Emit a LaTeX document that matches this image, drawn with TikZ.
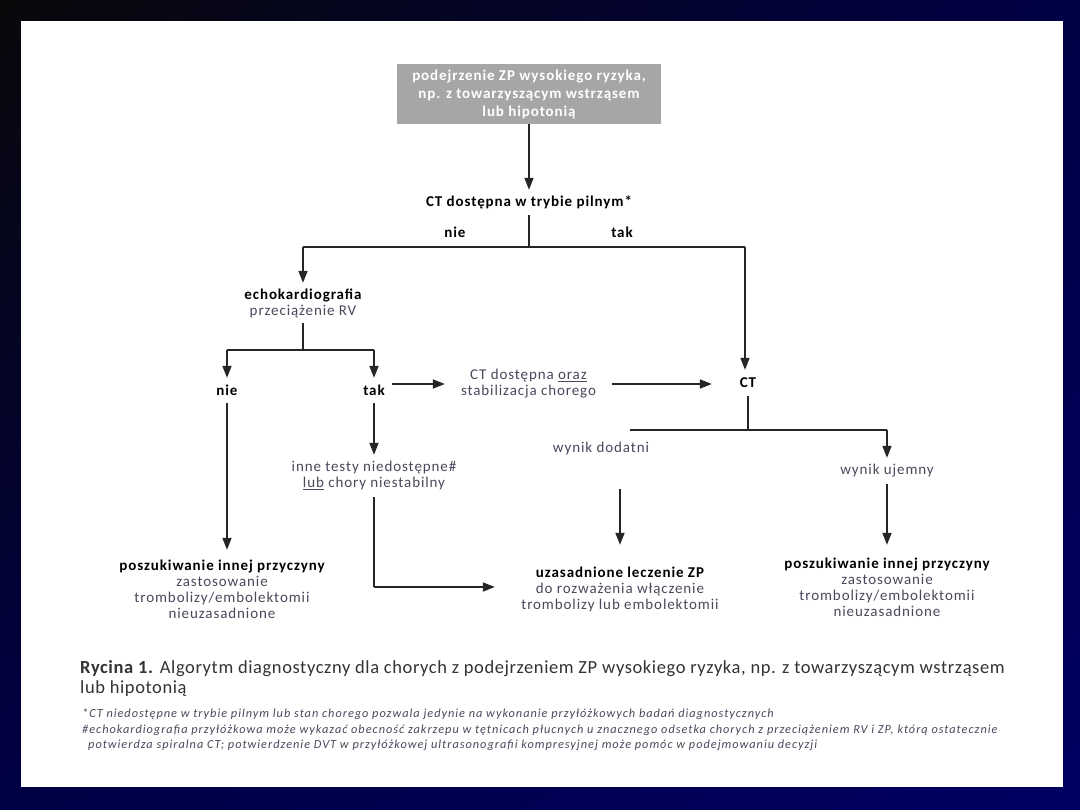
\documentclass[tikz,border=0pt]{standalone}
\usepackage{fontspec}
\setmainfont{Carlito}
\newfontfamily\diagf[LetterSpace=6]{Carlito}
\newfontfamily\capf[LetterSpace=3.2]{Carlito}
\newfontfamily\fnf[LetterSpace=8]{Carlito}
\usetikzlibrary{arrows.meta,shadings}
\definecolor{navy}{RGB}{0,0,98}
\definecolor{navyd}{RGB}{0,0,70}
\definecolor{nearblack}{RGB}{8,8,10}
\definecolor{boxgray}{RGB}{166,166,166}
\definecolor{txtgray}{RGB}{72,74,92}
\newcommand{\fsz}{\diagf\fontsize{15}{16}\selectfont}
\begin{document}
\begin{tikzpicture}[x=1pt,y=-1pt,
 ln/.style={line width=1.8pt, draw=black!85},
 arr/.style={ln, -{Triangle[length=12pt,width=9pt]}},
 bt/.style={font=\fsz\bfseries, text=black, inner sep=0pt, align=center},
 nt/.style={font=\fsz, text=txtgray, inner sep=0pt, align=center},
 capline/.style={anchor=base west, font=\capf\fontsize{18.5}{20}\selectfont, text=black!80, inner sep=0pt},
 fnline/.style={anchor=base west, font=\fnf\fontsize{12.3}{14}\selectfont\itshape, text=txtgray, inner sep=0pt},
]
\useasboundingbox (0,0) rectangle (1080,810);
\shade[upper left=nearblack, upper right=navyd, lower left=navyd, lower right=navy] (0,0) rectangle (1080,810);
\fill[white] (21,21) rectangle (1063,787);

% nodes
\node[fill=boxgray, minimum width=264pt, minimum height=60pt, font=\diagf\fontsize{15}{18}\selectfont\bfseries, text=white, align=center, inner sep=0pt] (top) at (529,94) {podejrzenie ZP wysokiego ryzyka,\\np. z towarzyszącym wstrząsem\\lub hipotonią};
\node[bt, minimum height=24pt] (q1) at (529,202) {CT dostępna w trybie pilnym*};
\node[bt] (nie1) at (455,232) {nie};
\node[bt] (tak1) at (622,232) {tak};
\coordinate (j1) at (529,247);
\coordinate (jl) at (303,247);
\coordinate (jr) at (745,247);
\node[nt, minimum height=40pt] (echo) at (303,303) {{\bfseries\color{black}echokardiografia}\\przeciążenie RV};
\coordinate (j2) at (303,350);
\coordinate (j2l) at (227,350);
\coordinate (j2r) at (374,350);
\node[bt, minimum height=25pt] (nie2) at (227,390.5) {nie};
\node[bt, minimum height=25pt, minimum width=36pt] (tak2) at (374,390.5) {tak};
\node[nt, minimum width=167pt] (stab) at (528.5,384) {CT dostępna \underline{oraz}\\stabilizacja chorego};
\node[bt, minimum height=26pt, minimum width=72pt] (ct) at (748,383) {CT};
\coordinate (j3) at (748,430);
\coordinate (j3l) at (630,430);
\coordinate (j3r) at (887,430);
\node[nt] (dod) at (601,449) {wynik dodatni};
\node[nt, minimum height=26pt] (uje) at (887,471) {wynik ujemny};
\node[nt, minimum height=42pt] (inne) at (374,476) {inne testy niedostępne\#\\\underline{lub} chory niestabilny};
\coordinate (k) at (374,587);
\node[nt, minimum height=78pt] (pos1) at (222,589) {{\bfseries\color{black}poszukiwanie innej przyczyny}\\zastosowanie\\trombolizy/embolektomii\\nieuzasadnione};
\node[nt, minimum height=88pt, minimum width=250pt] (lecz) at (620,589) {{\bfseries\color{black}uzasadnione leczenie ZP}\\do rozważenia włączenie\\trombolizy lub embolektomii};
\node[nt, minimum height=85pt] (pos2) at (887,587.5) {{\bfseries\color{black}poszukiwanie innej przyczyny}\\zastosowanie\\trombolizy/embolektomii\\nieuzasadnione};

% connectors
\draw[arr] (top.south) -- (q1.north);
\draw[ln, shorten <=1pt] (q1.south) -- (j1);
\draw[ln] (jl) -- (jr);
\draw[arr] (jl) -- (echo.north);
\draw[arr] (jr) -- (jr |- ct.north);
\draw[ln] (echo.south) -- (j2);
\draw[ln] (j2l) -- (j2r);
\draw[arr] (j2l) -- (nie2.north);
\draw[arr] (j2r) -- (tak2.north);
\draw[arr] (stab.west -| tak2.east) -- (stab.west);
\draw[arr] (stab.east) -- (stab.east -| ct.west);
\draw[ln] (ct.south) -- (j3);
\draw[ln] (j3l) -- (j3r);
\draw[arr] (j3r) -- (uje.north);
\draw[arr] (uje.south) -- (pos2.north);
\draw[arr, shorten <=33pt] (dod.south -| lecz.north) -- (lecz.north);
\draw[arr] (tak2.south) -- (inne.north);
\draw[ln] (inne.south) -- (k);
\draw[arr] (k) -- (k -| lecz.west);
\draw[arr] (nie2.south) -- (nie2.south |- pos1.north);

% caption
\node[capline] (cap1) at (80,673) {\textbf{Rycina 1.} Algorytm diagnostyczny dla chorych z podejrzeniem ZP wysokiego ryzyka, np. z towarzyszącym wstrząsem};
\node[capline] (cap2) at (80,693) {lub hipotonią};
\node[fnline] (fn1) at (82,717) {*CT niedostępne w trybie pilnym lub stan chorego pozwala jedynie na wykonanie przyłóżkowych badań diagnostycznych};
\node[fnline] (fn2) at (82,733) {\#echokardiografia przyłóżkowa może wykazać obecność zakrzepu w tętnicach płucnych u znacznego odsetka chorych z przeciążeniem RV i ZP, którą ostatecznie};
\node[fnline] (fn3) at (88,748) {potwierdza spiralna CT; potwierdzenie DVT w przyłóżkowej ultrasonografii kompresyjnej może pomóc w podejmowaniu decyzji};
\end{tikzpicture}
\end{document}
